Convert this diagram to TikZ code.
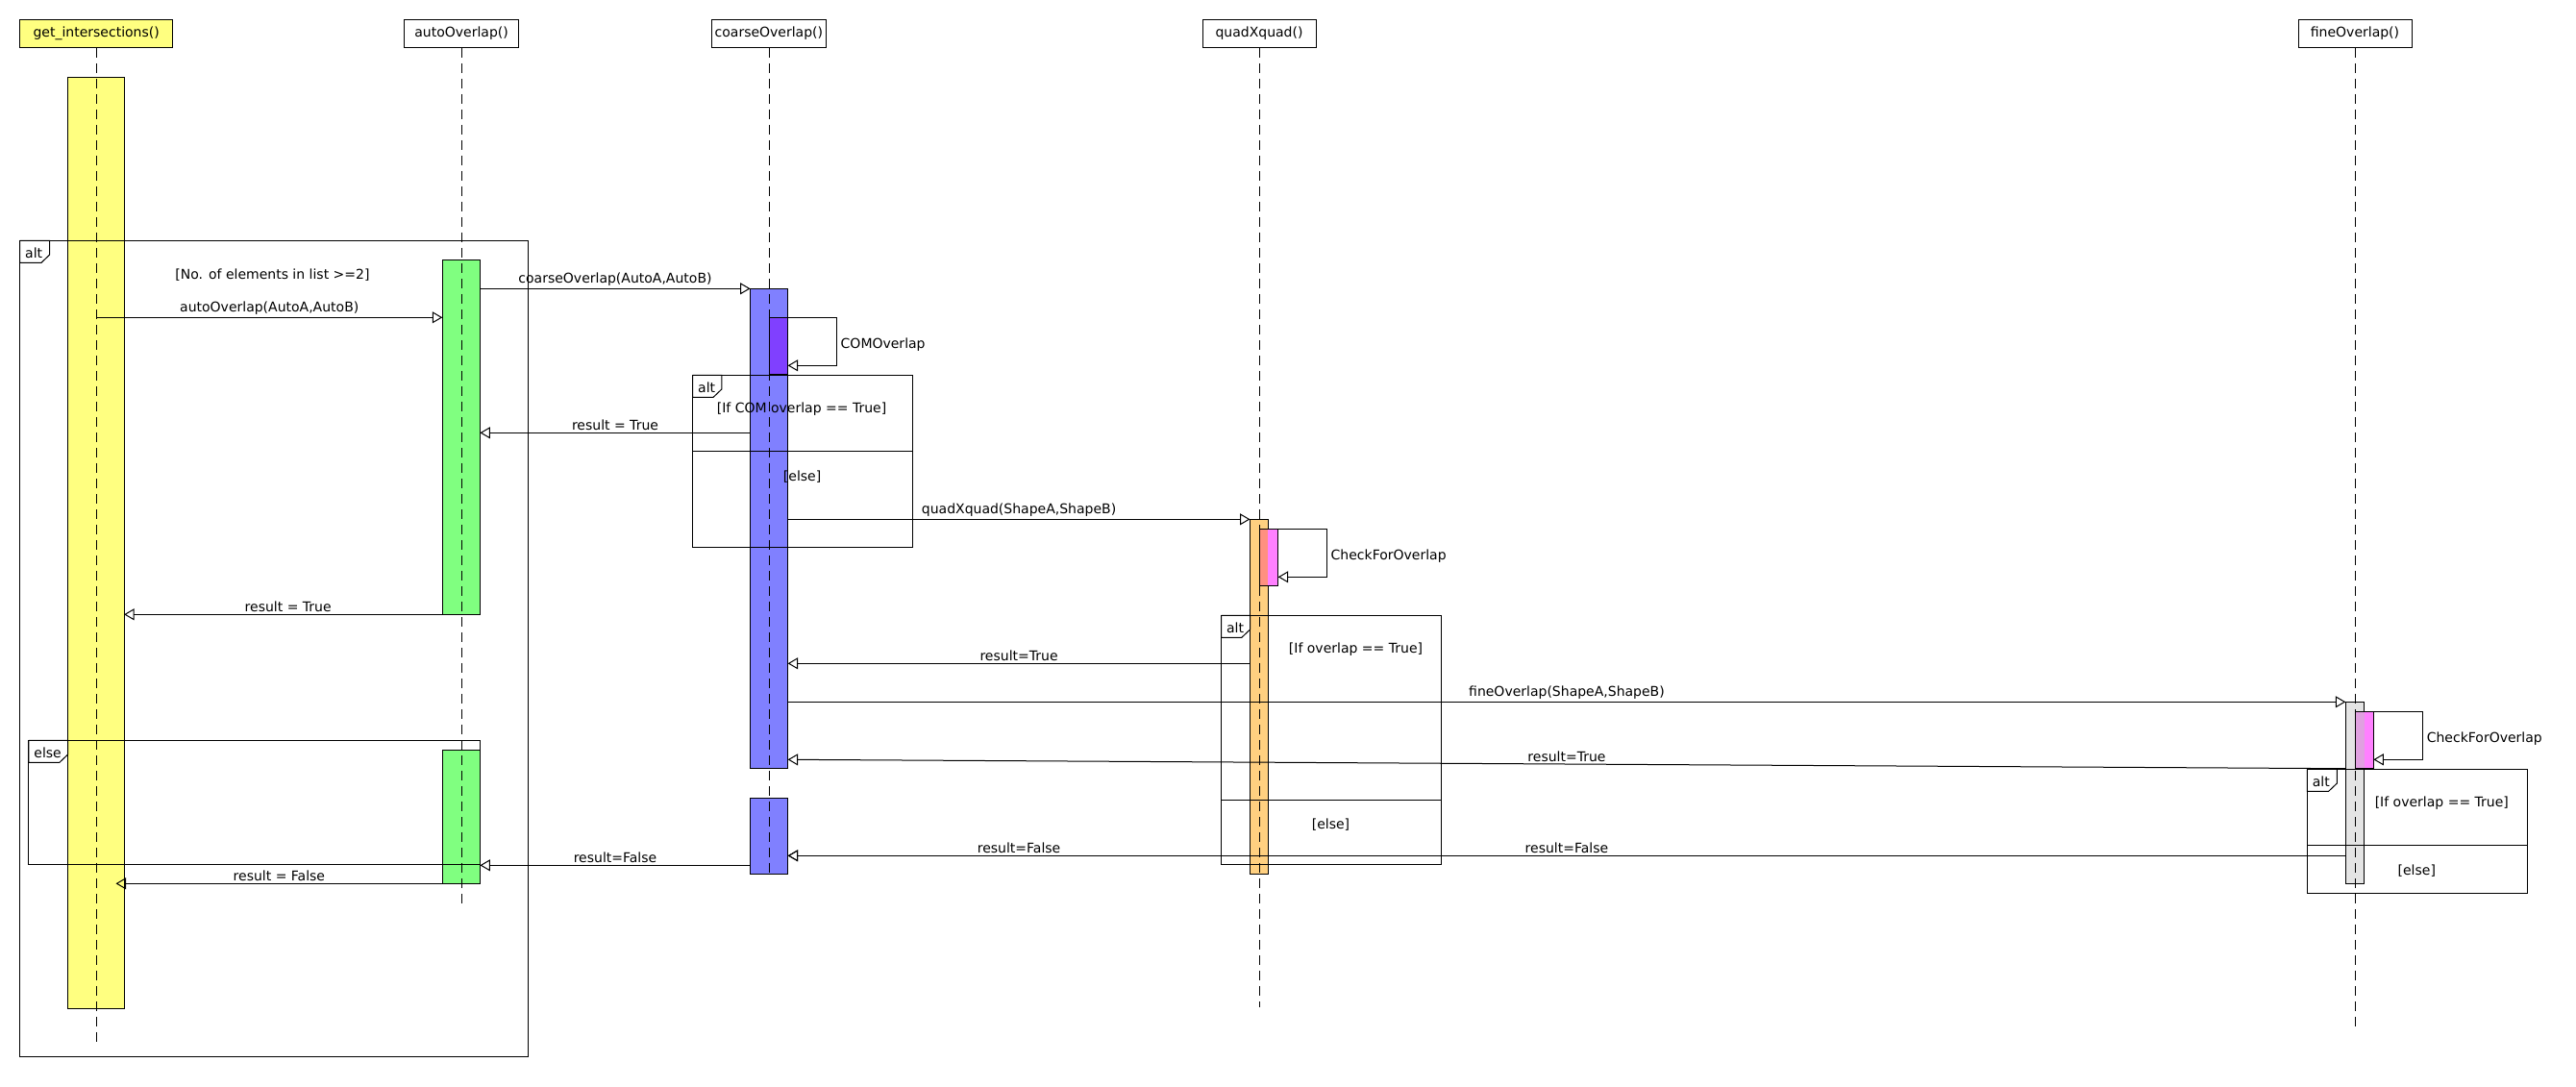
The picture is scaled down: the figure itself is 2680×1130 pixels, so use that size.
\documentclass[tikz,border=0pt]{standalone}
\usepackage{fontspec}
\setmainfont{DejaVu Sans}
\usetikzlibrary{arrows.meta, calc}

\definecolor{barYellow}{HTML}{FFFF80}
\definecolor{barGreen}{HTML}{80FF80}
\definecolor{barBlue}{HTML}{8080FF}
\definecolor{barPurple}{HTML}{8040FF}
\definecolor{barOrange}{HTML}{FFD080}
\definecolor{barPink}{HTML}{FF80FF}
\definecolor{barGray}{HTML}{E4E4E4}
\definecolor{mixSalmon}{HTML}{FF9080}
\definecolor{mixLilac}{HTML}{E0A0E0}

% tab in the upper left corner of a fragment: node, width, text
\newcommand{\fragtab}[3]{%
  \draw (#1.north west) -- ++(#2,0) -- ++(0,14.7) -- ++(-8.7,8.3) -| (#1.north west);
  \node[anchor=west, inner sep=0pt] at ([shift={(5,13)}]#1.north west) {#3};}

\begin{document}
\begin{tikzpicture}
  [x=1pt, y=-1pt, line width=1pt, font=\fontsize{14}{16}\selectfont,
   head/.style={draw, fill=white, minimum height=29pt, inner sep=0pt},
   bar/.style={draw, inner sep=0pt, outer sep=0pt, anchor=north west},
   frag/.style={draw, inner sep=0pt, outer sep=0pt, anchor=north west},
   lifeline/.style={dash pattern=on 10pt off 6pt, line width=0.7pt},
   msg/.style={-{Triangle[open, length=10.5pt, width=12pt]}},
   lbl/.style={above, inner sep=2pt},
   selflbl/.style={right, pos=0.25, inner sep=4pt, yshift=-3pt}]
  \useasboundingbox (0,0) rectangle (2680,1130);

  % objects
  \node[head, fill=barYellow, minimum width=159pt] (hdG) at (100.2,34.8) {get\_intersections()};
  \node[head, minimum width=119pt] (hdA) at (480.1,34.8) {autoOverlap()};
  \node[head, minimum width=119pt] (hdC) at (799.9,34.8) {coarseOverlap()};
  \node[head, minimum width=118pt] (hdQ) at (1310,34.8) {quadXquad()};
  \node[head, minimum width=118pt] (hdF) at (2450,34.8) {fineOverlap()};

  % activations
  \node[bar, fill=barYellow, minimum width=58.5pt, minimum height=969pt] (actG) at (70.6,80.3) {};
  \node[bar, fill=barGreen, minimum width=39.1pt, minimum height=369pt] (actA1) at (460.3,270.3) {};
  \node[bar, fill=barGreen, minimum width=39.1pt, minimum height=139pt] (actA2) at (460.3,780.3) {};
  \node[bar, fill=barBlue, minimum width=39pt, minimum height=499pt] (actC1) at (780.6,300.3) {};
  \node[bar, fill=barBlue, minimum width=39pt, minimum height=79pt] (actC2) at (780.6,830.3) {};
  \node[bar, fill=barPurple, minimum width=18.9pt, minimum height=59pt] (actCOM) at (800.7,330.3) {};
  \node[bar, fill=barOrange, minimum width=18.9pt, minimum height=369pt] (actQ) at (1300.5,540.3) {};
  \node[bar, fill=barPink, minimum width=19.5pt, minimum height=59pt] (actQs) at (1310.2,550.3) {};
  \fill[mixSalmon] (actQs.north west) rectangle (actQ.east |- actQs.south);
  \draw (actQs.north west) rectangle (actQs.south east);
  \node[bar, fill=barGray, minimum width=19.4pt, minimum height=188.7pt] (actF) at (2440.3,730.3) {};
  \node[bar, fill=barPink, minimum width=19pt, minimum height=59.4pt] (actFs) at (2450.3,740.3) {};
  \fill[mixLilac] (actFs.north west) rectangle (actF.east |- actFs.south);
  \draw (actFs.north west) rectangle (actFs.south east);

  % lifelines
  \draw[lifeline] (hdG.south) -- (hdG.south |- 0,1085.7);
  \draw[lifeline] (hdA.south) -- (hdA.south |- 0,940);
  \draw[lifeline] (hdC.south) -- (hdC.south |- 0,910);
  \draw[lifeline] (hdQ.south) -- (hdQ.south |- 0,1048);
  \draw[lifeline] (hdF.south) -- (hdF.south |- 0,1070);

  % fragments
  \node[frag, minimum width=528.6pt, minimum height=848.7pt] (frOuter) at (20.7,250.3) {};
  \fragtab{frOuter}{31}{alt}
  \node at (283.5,286) {[No. of elements in list >=2]};
  \node[frag, minimum width=469.5pt, minimum height=129pt] (frElse) at (29.9,770.3) {};
  \fragtab{frElse}{40.7}{else}
  \node[frag, minimum width=229pt, minimum height=179pt] (frC) at (720.7,390.3) {};
  \fragtab{frC}{30.1}{alt}
  \draw (frC.west |- 0,469.3) -- (frC.east |- 0,469.3);
  \node at (834,426) {[If COM overlap == True]};
  \node at (834.6,496) {[else]};
  \node[frag, minimum width=229pt, minimum height=259pt] (frQ) at (1270.6,640.3) {};
  \fragtab{frQ}{29.9}{alt}
  \draw (frQ.west |- 0,832.3) -- (frQ.east |- 0,832.3);
  \node at (1410.5,676) {[If overlap == True]};
  \node at (1384.5,857.7) {[else]};
  \node[frag, minimum width=229.4pt, minimum height=128.7pt] (frF) at (2400.3,800.3) {};
  \fragtab{frF}{31}{alt}
  \draw (frF.west |- 0,879.3) -- (frF.east |- 0,879.3);
  \node at (2540.3,836) {[If overlap == True]};
  \node at (2514.3,906) {[else]};

  % messages
  \draw[msg] (hdG.south |- 0,330.3) -- (actA1.west |- 0,330.3) node[lbl, midway] {autoOverlap(AutoA,AutoB)};
  \draw[msg] (actA1.north east |- 0,300.3) -- (actC1.north west) node[lbl, midway] {coarseOverlap(AutoA,AutoB)};
  \draw[msg] (actCOM.north west) -- ++(69.5,0) |- node[selflbl] {COMOverlap} (actCOM.east |- 0,380.3);
  \draw[msg] (actC1.west |- 0,450.3) -- (actA1.east |- 0,450.3) node[lbl, midway] {result = True};
  \draw[msg] (actC1.east |- 0,540.3) -- (actQ.north west) node[lbl, midway] {quadXquad(ShapeA,ShapeB)};
  \draw[msg] (actQs.north west) -- ++(70,0) |- node[selflbl] {CheckForOverlap} (actQs.east |- 0,600.3);
  \draw[msg] ([xshift=10pt]actA1.south west) -- (actG.east |- actA1.south west) node[lbl, midway] {result = True};
  \draw[msg] (actQ.west |- 0,690.3) -- (actC1.east |- 0,690.3) node[lbl, midway] {result=True};
  \draw[msg] (actC1.east |- 0,730.3) -- (actF.north west) node[lbl, midway] {fineOverlap(ShapeA,ShapeB)};
  \draw[msg] (actFs.north west) -- ++(70,0) |- node[selflbl] {CheckForOverlap} (actFs.east |- 0,790.3);
  \draw[msg] (actF.west |- actFs.south) -- (actC1.east |- 0,790.3) node[lbl, midway] {result=True};
  \draw[msg] (actC2.west |- 0,900.3) -- (actA2.east |- 0,900.3) node[lbl, midway] {result=False};
  \draw[msg] (actQ.west |- 0,890.3) -- (actC2.east |- 0,890.3) node[lbl, midway] {result=False};
  \draw[msg] (actF.west |- 0,890.3) -- (actC2.east |- 0,890.3) node[lbl, midway] {result=False};
  \draw[msg] (actA2.south west) -- ([xshift=-8.6pt]actG.east |- actA2.south west) node[lbl, midway] {result = False};
\end{tikzpicture}
\end{document}
